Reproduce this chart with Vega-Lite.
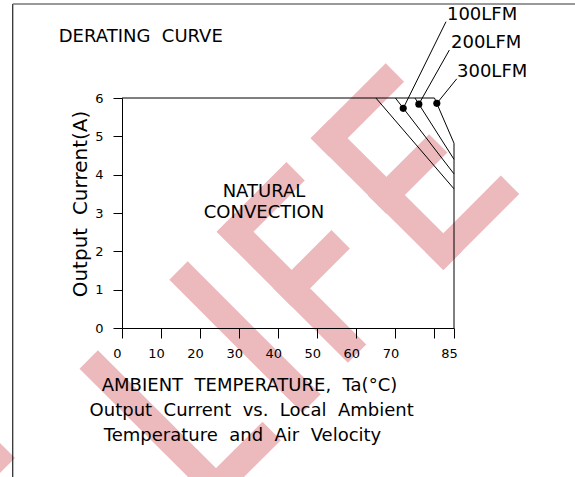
{
  "$schema": "https://vega.github.io/schema/vega-lite/v6.json",
  "autosize": {"type": "none"},
  "padding": {"left": 122, "top": 98, "right": 121, "bottom": 149},
  "width": 332,
  "height": 230,
  "background": "white",
  "config": {
    "font": "DejaVu Sans",
    "view": {"stroke": null},
    "axis": {
      "domainColor": "black",
      "tickColor": "black",
      "labelColor": "black",
      "titleColor": "black",
      "grid": false,
      "labelFlush": false,
      "labelOverlap": false,
      "labelFontSize": 13,
      "titleFontWeight": "normal"
    }
  },
  "datasets": {
    "curves": [
      {"series": "limit", "t": 0, "x": 0, "y": 6},
      {"series": "limit", "t": 1, "x": 80, "y": 6},
      {"series": "limit", "t": 2, "x": 85, "y": 4.82},
      {"series": "limit", "t": 3, "x": 85, "y": 0},
      {"series": "natural", "t": 0, "x": 65, "y": 6},
      {"series": "natural", "t": 1, "x": 85, "y": 3.63},
      {"series": "100LFM", "t": 0, "x": 70, "y": 6},
      {"series": "100LFM", "t": 1, "x": 85, "y": 4.02},
      {"series": "200LFM", "t": 0, "x": 75, "y": 6},
      {"series": "200LFM", "t": 1, "x": 85, "y": 4.4}
    ],
    "leaders": [
      {"airflow": "100LFM", "x": 72.0, "y": 5.73, "x2": 82.95, "y2": 7.99},
      {"airflow": "200LFM", "x": 76.0, "y": 5.84, "x2": 83.8, "y2": 7.25},
      {"airflow": "300LFM", "x": 80.6, "y": 5.86, "x2": 85.7, "y2": 6.5}
    ],
    "leftText": [
      {"text": "DERATING\u00a0 CURVE", "x": -16.2, "y": 7.6},
      {"text": "100LFM", "x": 83.2, "y": 8.165},
      {"text": "200LFM", "x": 84.23, "y": 7.43},
      {"text": "300LFM", "x": 85.77, "y": 6.69}
    ],
    "centerText": [
      {"text": "NATURAL", "x": 36.35, "y": 3.556},
      {"text": "CONVECTION", "x": 36.35, "y": 2.992},
      {"text": "Output\u00a0 Current\u00a0 vs.\u00a0 Local\u00a0 Ambient", "x": 33.2, "y": -2.165},
      {"text": "Temperature\u00a0 and\u00a0 Air\u00a0 Velocity", "x": 30.85, "y": -2.817}
    ],
    "watermark": [
      {"x": 53.02, "y": 4.949, "x2": 82.26, "y2": 1.993},
      {"x": 53.02, "y": 4.949, "x2": 67.51, "y2": 6.425},
      {"x": 67.64, "y": 3.459, "x2": 78.62, "y2": 4.578},
      {"x": 82.26, "y": 1.993, "x2": 97.0, "y2": 3.496},
      {"x": 28.96, "y": 2.512, "x2": 57.83, "y2": -0.43},
      {"x": 28.96, "y": 2.512, "x2": 42.09, "y2": 3.85},
      {"x": 43.45, "y": 1.036, "x2": 53.63, "y2": 2.074},
      {"x": 16.82, "y": 1.26, "x2": 46.16, "y2": -1.73},
      {"x": -6.17, "y": -1.062, "x2": 24.07, "y2": -4.135},
      {"x": 24.07, "y": -4.135, "x2": 35.97, "y2": -2.927},
      {"x": -41.47, "y": -4.346, "x2": -32.1, "y2": -3.391}
    ],
    "frameLeft": [{"x": -27.98, "y": 8.452, "x2": -27.98, "y2": -3.965}],
    "frameTop": [{"x": -27.98, "y": 8.452, "x2": 117.3, "y2": 8.452}]
  },
  "encoding": {
    "x": {
      "field": "x",
      "type": "quantitative",
      "scale": {"domain": [0, 85], "nice": false, "zero": false},
      "axis": {
        "zindex": 2,
        "values": [0, 10, 20, 30, 40, 50, 60, 70, 80, 85],
        "labelExpr": "datum.value == 80 ? '' : datum.label",
        "tickSize": 10,
        "labelPadding": 9,
        "labelOffset": -5,
        "title": "AMBIENT\u00a0 TEMPERATURE,\u00a0 Ta(°C)",
        "titleFontSize": 18,
        "titleX": 127,
        "titleY": 62,
        "titleAlign": "center",
        "titleBaseline": "alphabetic"
      }
    },
    "y": {
      "field": "y",
      "type": "quantitative",
      "scale": {"domain": [0, 6], "nice": false, "zero": false},
      "axis": {
        "zindex": 2,
        "values": [0, 1, 2, 3, 4, 5, 6],
        "tickSize": 9,
        "labelPadding": 10,
        "title": "Output\u00a0 Current(A)",
        "titleFontSize": 20,
        "titleAngle": 270,
        "titleX": -36,
        "titleY": 105.5,
        "titleAlign": "center",
        "titleBaseline": "alphabetic"
      }
    }
  },
  "layer": [
    {
      "data": {"name": "watermark"},
      "mark": {"type": "rule", "color": "#ecb9bd", "strokeWidth": 26, "strokeCap": "square"},
      "encoding": {"x2": {"field": "x2"}, "y2": {"field": "y2"}}
    },
    {
      "data": {"name": "frameLeft"},
      "mark": {"type": "rule", "color": "#222222", "strokeWidth": 1.2},
      "encoding": {"x2": {"field": "x2"}, "y2": {"field": "y2"}}
    },
    {
      "data": {"name": "frameTop"},
      "mark": {"type": "rule", "color": "#777777", "strokeWidth": 1.5},
      "encoding": {"x2": {"field": "x2"}, "y2": {"field": "y2"}}
    },
    {
      "data": {"name": "curves"},
      "mark": {"type": "line", "color": "black", "strokeWidth": 1},
      "encoding": {
        "detail": {"field": "series"},
        "order": {"field": "t", "type": "quantitative"}
      }
    },
    {
      "data": {"name": "leaders"},
      "mark": {"type": "rule", "color": "black", "strokeWidth": 1},
      "encoding": {"x2": {"field": "x2"}, "y2": {"field": "y2"}}
    },
    {
      "data": {"name": "leaders"},
      "mark": {"type": "point", "filled": true, "color": "black", "size": 50, "opacity": 1}
    },
    {
      "data": {"name": "leftText"},
      "mark": {"type": "text", "align": "left", "baseline": "middle", "fontSize": 18, "color": "black"},
      "encoding": {"text": {"field": "text"}}
    },
    {
      "data": {"name": "centerText"},
      "mark": {"type": "text", "align": "center", "baseline": "middle", "fontSize": 18, "color": "black"},
      "encoding": {"text": {"field": "text"}}
    }
  ]
}
